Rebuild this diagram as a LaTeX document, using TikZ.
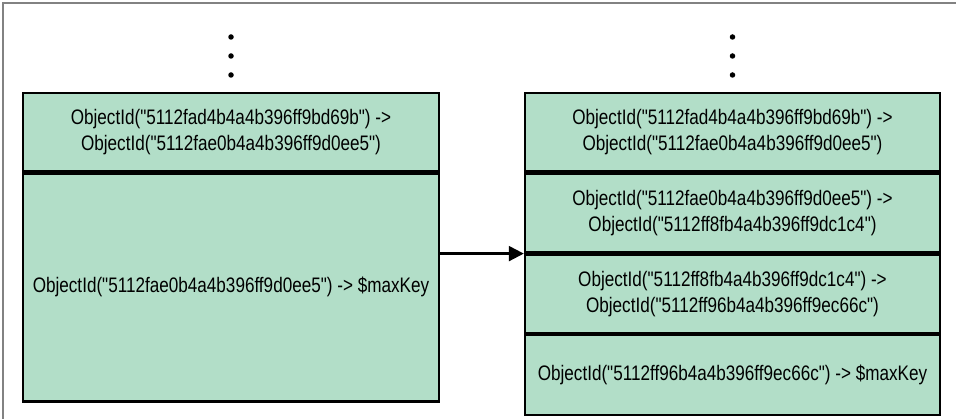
\documentclass[tikz,border=0pt]{standalone}
\usepackage{fontspec}
\setmainfont[FakeStretch=0.815, Ligatures=TeXOff]{Liberation Sans}
\usetikzlibrary{positioning, arrows.meta}
\definecolor{idgreen}{RGB}{178,222,200}
\definecolor{framegray}{RGB}{130,130,130}
\tikzset{
  row/.style={draw=black, line width=2.4pt, fill=idgreen, align=center, inner sep=0pt},
  arr/.style={-{Triangle[length=15pt,width=15pt]}, line width=2.2pt, draw=black},
  dot/.style={circle, fill=black, draw=none, inner sep=0pt, minimum size=5.5pt}
}
\begin{document}
\begin{tikzpicture}[x=1pt, y=-1pt, font=\fontsize{21}{26}\selectfont]
\useasboundingbox (0,0) rectangle (956,419);
\draw[framegray, line width=1.6pt] (3,419) -- (3,3) -- (956,3);

% chunk before the split
\node[row, minimum width=416pt, minimum height=78pt] (ltop) at (231,132)
  {ObjectId("5112fad4b4a4b396ff9bd69b") ->\\
   ObjectId("5112fae0b4a4b396ff9d0ee5")};
\node[row, minimum width=416pt, minimum height=228pt, below=0pt of ltop] (lbot)
  {ObjectId("5112fae0b4a4b396ff9d0ee5") -> \$maxKey};

% chunks after the split
\node[row, minimum width=415pt, minimum height=78pt] (rtop) at (732.5,132)
  {ObjectId("5112fad4b4a4b396ff9bd69b") ->\\
   ObjectId("5112fae0b4a4b396ff9d0ee5")};
\node[row, minimum width=415pt, minimum height=79pt, below=0pt of rtop] (rsec)
  {ObjectId("5112fae0b4a4b396ff9d0ee5") ->\\
   ObjectId("5112ff8fb4a4b396ff9dc1c4")};
\node[row, minimum width=415pt, minimum height=78pt, below=0pt of rsec] (rthr)
  {ObjectId("5112ff8fb4a4b396ff9dc1c4") ->\\
   ObjectId("5112ff96b4a4b396ff9ec66c")};
\node[row, minimum width=415pt, minimum height=80pt, below=0pt of rthr] (rlast)
  {ObjectId("5112ff96b4a4b396ff9ec66c") -> \$maxKey};

% more chunks above
\foreach \y in {37,56,75} {
  \node[dot] (ldot\y) at (ltop.north |- 0,\y) {};
  \node[dot] (rdot\y) at (rtop.north |- 0,\y) {};
}

\draw[arr] (lbot.east |- rsec.south) -- (rsec.south west);
\end{tikzpicture}
\end{document}
